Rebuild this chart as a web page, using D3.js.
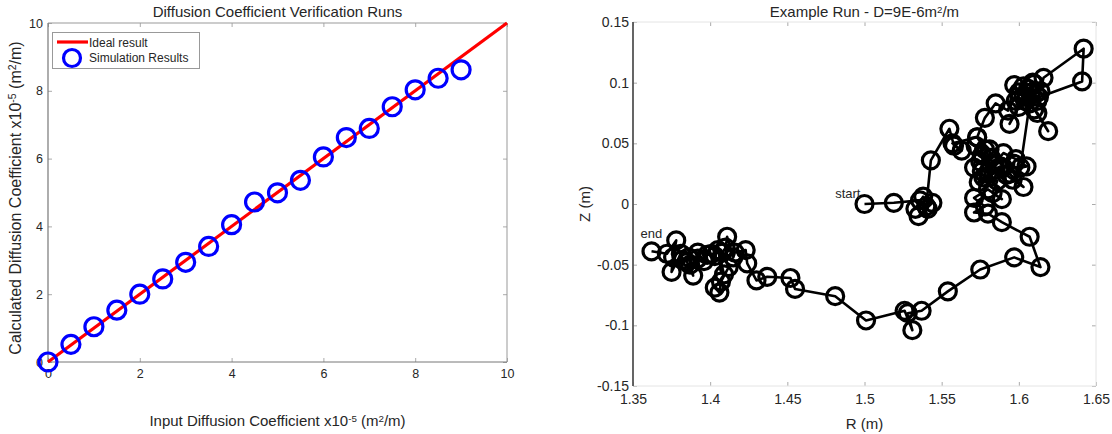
<!DOCTYPE html>
<html><head><meta charset="utf-8">
<script src="https://cdn.jsdelivr.net/npm/d3@7"></script>
<style>body{margin:0;background:#fff}svg{display:block;font-family:"Liberation Sans",Arial,sans-serif}</style>
</head><body><svg id="c" width="1112" height="434"></svg>
<script>
// ---- Left chart data ----
const inputD = [0,0.5,1,1.5,2,2.5,3,3.5,4,4.5,5,5.5,6,6.5,7,7.5,8,8.5,9];
const calcD  = [0,0.52,1.04,1.53,2.0,2.45,2.94,3.41,4.05,4.72,4.99,5.36,6.05,6.62,6.89,7.53,8.03,8.37,8.62];
const idealX = [0,10];
const idealY = [0,10];
const leftTicks = [0,2,4,6,8,10];
// ---- Right chart data (random walk path) ----
const pathR = [
  1.500,1.519,1.536,1.541,1.535,1.544,1.538,1.533,1.540,1.543,
  1.555,1.558,1.563,1.557,1.573,1.578,1.585,1.593,1.597,1.603,
  1.594,1.600,1.608,1.612,1.616,1.642,1.641,1.613,1.606,1.600,
  1.610,1.619,1.612,1.604,1.598,1.607,1.610,1.603,1.605,1.611,
  1.614,1.609,1.601,1.605,1.598,1.590,1.584,1.578,1.573,1.581,
  1.576,1.572,1.571,1.575,1.582,1.577,1.585,1.590,1.597,1.594,
  1.603,1.596,1.592,1.588,1.580,1.576,1.574,1.586,1.583,1.589,
  1.580,1.571,1.578,1.571,1.580,1.589,1.607,1.614,1.597,1.575,
  1.554,1.537,1.528,1.531,1.526,1.501,1.481,1.455,1.452,1.437,
  1.430,1.424,1.423,1.416,1.415,1.411,1.410,1.408,1.412,1.407,
  1.406,1.403,1.409,1.405,1.403,1.401,1.398,1.396,1.392,1.392,
  1.387,1.389,1.385,1.386,1.382,1.381,1.375,1.376,1.378,1.372,
  1.362];
const pathZ = [
  0.000,0.001,0.003,-0.004,-0.010,0.001,0.006,-0.004,-0.002,0.036,
  0.062,0.048,0.044,0.050,0.055,0.071,0.083,0.077,0.098,0.089,
  0.066,0.080,0.092,0.085,0.104,0.128,0.101,0.088,0.095,0.092,
  0.078,0.060,0.075,0.085,0.085,0.083,0.099,0.097,0.088,0.091,
  0.093,0.100,0.030,0.031,0.037,0.042,0.033,0.045,0.055,0.045,
  0.040,0.048,0.030,0.035,0.038,0.022,0.028,0.030,0.033,0.025,
  0.014,0.020,0.024,0.031,0.026,0.027,0.018,0.019,0.009,0.004,
  0.012,0.005,-0.002,-0.007,-0.008,-0.015,-0.027,-0.052,-0.044,-0.054,
  -0.072,-0.088,-0.090,-0.104,-0.088,-0.096,-0.076,-0.070,-0.061,-0.060,
  -0.063,-0.049,-0.038,-0.040,-0.044,-0.027,-0.036,-0.040,-0.052,-0.064,
  -0.073,-0.069,-0.058,-0.038,-0.043,-0.041,-0.042,-0.047,-0.040,-0.045,
  -0.050,-0.059,-0.048,-0.044,-0.046,-0.041,-0.056,-0.044,-0.030,-0.041,
  -0.039];
const rTicks = [1.35,1.4,1.45,1.5,1.55,1.6,1.65];
const zTicks = [-0.15,-0.1,-0.05,0,0.05,0.1,0.15];

const svg = d3.select('#c');
const txt = '#262626';

function boxTicks(g, sx, sy, xt, yt, colL, colB, colT, colR, fmtx, fmty, P, wL, fs, padX, padY){
  g.append('g').attr('transform',`translate(0,${P.y1})`).call(d3.axisBottom(sx).tickValues(xt).tickSize(-4).tickPadding(padX).tickFormat(fmtx))
    .call(a=>{a.select('.domain').remove();a.selectAll('line').attr('stroke','#aaa');a.selectAll('text').attr('fill',txt).attr('font-size',fs);});
  g.append('g').attr('transform',`translate(${P.x0},0)`).call(d3.axisLeft(sy).tickValues(yt).tickSize(-4).tickPadding(padY).tickFormat(fmty))
    .call(a=>{a.select('.domain').remove();a.selectAll('line').attr('stroke','#aaa');a.selectAll('text').attr('fill',txt).attr('font-size',fs);});
  g.append('g').attr('transform',`translate(0,${P.y0})`).call(d3.axisTop(sx).tickValues(xt).tickSize(-4).tickFormat(''))
    .call(a=>{a.select('.domain').remove();a.selectAll('line').attr('stroke','#aaa');});
  g.append('g').attr('transform',`translate(${P.x1},0)`).call(d3.axisRight(sy).tickValues(yt).tickSize(-4).tickFormat(''))
    .call(a=>{a.select('.domain').remove();a.selectAll('line').attr('stroke','#aaa');});
  g.append('line').attr('x1',P.x0).attr('x2',P.x1).attr('y1',P.y0).attr('y2',P.y0).attr('stroke',colT);
  g.append('line').attr('x1',P.x1).attr('x2',P.x1).attr('y1',P.y0).attr('y2',P.y1).attr('stroke',colR);
  g.append('line').attr('x1',P.x0).attr('x2',P.x1).attr('y1',P.y1).attr('y2',P.y1).attr('stroke',colB);
  g.append('line').attr('x1',P.x0).attr('x2',P.x0).attr('y1',P.y0).attr('y2',P.y1).attr('stroke',colL).attr('stroke-width',wL);
}
function supLabel(sel, parts){
  let prevSup = false;
  parts.forEach(p=>{
    const ts = sel.append('tspan').text(p.t);
    if(p.sup){ ts.attr('font-size','0.65em').attr('dy','-0.45em'); prevSup = true; }
    else if(prevSup){ ts.attr('dy','0.29em'); prevSup = false; }
  });
}

// ================= LEFT =================
const L = {x0:48,x1:507,y0:23,y1:362};
const lx = d3.scaleLinear().domain([0,10]).range([L.x0,L.x1]);
const ly = d3.scaleLinear().domain([0,10]).range([L.y1,L.y0]);
const gl = svg.append('g');
boxTicks(gl, lx, ly, leftTicks, leftTicks, '#777','#777','#999','#999', d3.format('d'), d3.format('d'), L, 1.2, 12.5, 7, 5);

gl.append('path').datum(idealX.map((x,i)=>[x,idealY[i]]))
  .attr('d', d3.line().x(d=>lx(d[0])).y(d=>ly(d[1])))
  .attr('stroke','#ff0000').attr('stroke-width',3.2).attr('fill','none');
gl.selectAll('circle.s').data(inputD.map((x,i)=>[x,calcD[i]])).join('circle')
  .attr('cx',d=>lx(d[0])).attr('cy',d=>ly(d[1])).attr('r',9)
  .attr('fill','none').attr('stroke','#0000ff').attr('stroke-width',3.2);

const lg = gl.append('g');
lg.append('rect').attr('x',52.5).attr('y',32.5).attr('width',147).attr('height',36).attr('fill','#fff').attr('stroke','#999');
lg.append('line').attr('x1',57).attr('x2',88).attr('y1',42).attr('y2',42).attr('stroke','#ff0000').attr('stroke-width',3.2);
lg.append('circle').attr('cx',72).attr('cy',58).attr('r',8.5).attr('fill','none').attr('stroke','#0000ff').attr('stroke-width',3.2);
lg.append('text').attr('x',89).attr('y',47).attr('font-size',12).attr('fill',txt).text('Ideal result');
lg.append('text').attr('x',89).attr('y',62).attr('font-size',12).attr('fill',txt).text('Simulation Results');

gl.append('text').attr('x',(L.x0+L.x1)/2).attr('y',17).attr('text-anchor','middle').attr('font-size',15).attr('fill',txt)
  .text('Diffusion Coefficient Verification Runs');
const xl = gl.append('text').attr('x',(L.x0+L.x1)/2).attr('y',426).attr('text-anchor','middle').attr('font-size',15).attr('fill',txt);
supLabel(xl,[{t:'Input Diffusion Coefficient x10'},{t:'-5',sup:1},{t:' (m'},{t:'2',sup:1},{t:'/m)'}]);
const yl = gl.append('text').attr('transform',`translate(21,198) rotate(-90)`).attr('text-anchor','middle').attr('font-size',16).attr('fill',txt);
supLabel(yl,[{t:'Calculated Diffusion Coefficient x10'},{t:'-5',sup:1},{t:' (m'},{t:'2',sup:1},{t:'/m)'}]);

// ================= RIGHT =================
const Rp = {x0:633,x1:1096,y0:22,y1:386};
const rx = d3.scaleLinear().domain([1.35,1.65]).range([Rp.x0,Rp.x1]);
const ry = d3.scaleLinear().domain([-0.15,0.15]).range([Rp.y1,Rp.y0]);
const gr = svg.append('g');
const fmtT = d=>String(+d.toFixed(2));
boxTicks(gr, rx, ry, rTicks, zTicks, '#555','#e4e4e4','#e4e4e4','#e4e4e4', fmtT, fmtT, Rp, 1.8, 14, 8, 4);

const pts = pathR.map((r,i)=>[r,pathZ[i]]);
gr.append('path').datum(pts).attr('d', d3.line().x(d=>rx(d[0])).y(d=>ry(d[1])))
  .attr('fill','none').attr('stroke','#000').attr('stroke-width',2.6).attr('stroke-linejoin','round');
gr.selectAll('circle.p').data(pts).join('circle')
  .attr('cx',d=>rx(d[0])).attr('cy',d=>ry(d[1])).attr('r',8.5)
  .attr('fill','none').attr('stroke','#000').attr('stroke-width',3.2);

gr.append('text').attr('x',rx(pathR[0])-4).attr('y',ry(pathZ[0])-6).attr('text-anchor','end').attr('font-size',13).attr('fill',txt).text('start');
gr.append('text').attr('x',rx(pathR[pathR.length-1])-11).attr('y',ry(pathZ[pathZ.length-1])-13).attr('font-size',13).attr('fill',txt).text('end');

const rt = gr.append('text').attr('x',(Rp.x0+Rp.x1)/2).attr('y',17).attr('text-anchor','middle').attr('font-size',15).attr('fill',txt);
supLabel(rt,[{t:'Example Run - D=9E-6m'},{t:'2',sup:1},{t:'/m'}]);
gr.append('text').attr('x',(Rp.x0+Rp.x1)/2).attr('y',429).attr('text-anchor','middle').attr('font-size',15).attr('fill',txt).text('R (m)');
gr.append('text').attr('transform',`translate(590,204) rotate(-90)`).attr('text-anchor','middle').attr('font-size',15).attr('fill',txt).text('Z (m)');
</script></body></html>
